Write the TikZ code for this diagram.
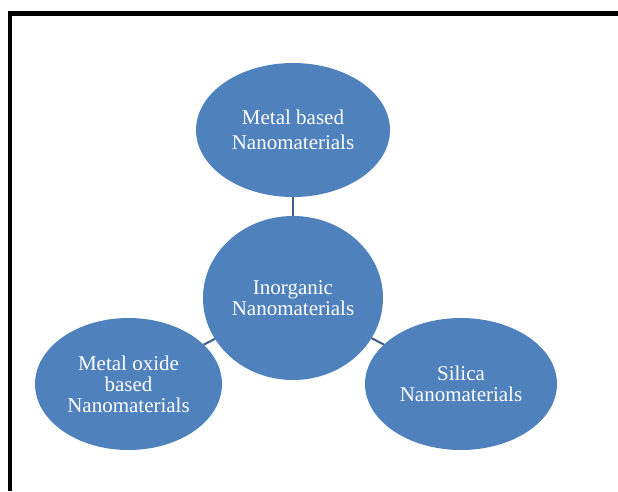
\documentclass[tikz,border=0pt]{standalone}
\usepackage{fontspec}
\setmainfont{Liberation Serif}
\usetikzlibrary{shapes.geometric}
\definecolor{nanoblue}{HTML}{4F81BD}
\definecolor{linkblue}{HTML}{3B5E8C}
\begin{document}
\begin{tikzpicture}[x=1pt, y=-1pt,
    blob/.style={ellipse, fill=nanoblue, inner sep=0pt, outer sep=0pt,
      text=white, align=center, font=\fontsize{21}{21}\selectfont},
    link/.style={draw=linkblue, line width=2pt}]
    \useasboundingbox (0,0) rectangle (618,491);
    % Frame
    \draw[line width=4.5pt, line join=miter] (9.8,491) -- (9.8,13.7) -- (618,13.7);
    % Ellipses
    \node[blob, minimum width=180pt, minimum height=164pt] (inorg) at (293,298)
      {Inorganic\\Nanomaterials};
    \node[blob, minimum width=194pt, minimum height=134pt,
      font=\fontsize{21}{25}\selectfont] (metal) at (293,130)
      {Metal based\\Nanomaterials};
    \node[blob, minimum width=187pt, minimum height=132pt] (oxide) at (128.5,384)
      {Metal oxide\\based\\Nanomaterials};
    \node[blob, minimum width=192pt, minimum height=132pt] (silica) at (461,384)
      {Silica\\Nanomaterials};
    % Links
    \draw[link] (inorg) -- (metal);
    \draw[link] (inorg) -- (oxide);
    \draw[link] (inorg) -- (silica);
\end{tikzpicture}
\end{document}
